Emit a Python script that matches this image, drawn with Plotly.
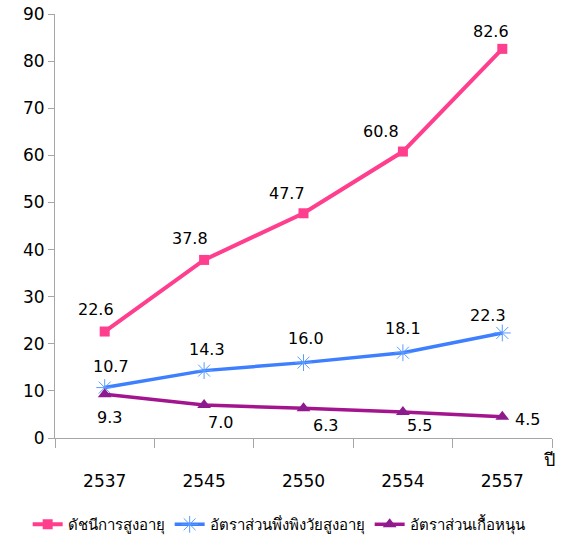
import plotly.graph_objects as go

years = ["2537", "2545", "2550", "2554", "2557"]
elderly_index = [22.6, 37.8, 47.7, 60.8, 82.6]
old_dependency = [10.7, 14.3, 16.0, 18.1, 22.3]
support_ratio = [9.3, 7.0, 6.3, 5.5, 4.5]
y_ticks = [0, 10, 20, 30, 40, 50, 60, 70, 80, 90]

names = ["ดัชนีการสูงอายุ", "อัตราส่วนพึ่งพิงวัยสูงอายุ", "อัตราส่วนเกื้อหนุน"]

# label offsets in pixels (style only)
pink_off = [(-9, 22), (-14, 21), (-17, 20), (-22, 20), (-11, 17)]
blue_off = [(6, 21), (3, 21), (2, 24), (0, 24), (-14, 17)]
purple_off = [(5, -23), (16, -17), (22, -17), (17, -13), (25, -3)]

FONT = "Tahoma, 'DejaVu Sans', 'Noto Sans', sans-serif"
PINK, BLUE, PURPLE = "#FF3E8E", "#3D7FFF", "#A3158F"

fig = go.Figure()
fig.add_trace(go.Scatter(
    x=years, y=elderly_index, name=names[0], mode="lines+markers",
    line=dict(color=PINK, width=4),
    marker=dict(symbol="square", size=10, color=PINK),
))
fig.add_trace(go.Scatter(
    x=years, y=old_dependency, name=names[1], mode="lines+markers",
    line=dict(color=BLUE, width=3.5),
    marker=dict(symbol="asterisk-open", size=14, color="#5A9BFF", line=dict(width=1, color="#5A9BFF")),
))
fig.add_trace(go.Scatter(
    x=years, y=support_ratio, name=names[2], mode="lines+markers",
    line=dict(color=PURPLE, width=3.5),
    marker=dict(symbol="triangle-up", size=12, color="#8E1B8E"),
))

annotations = []
for vals, offs in ((elderly_index, pink_off), (old_dependency, blue_off), (support_ratio, purple_off)):
    for i, (v, (dx, dy)) in enumerate(zip(vals, offs)):
        annotations.append(dict(x=i, y=v, xref="x", yref="y", text=f"{v:.1f}", showarrow=False,
                                xshift=dx, yshift=dy, font=dict(size=16, color="black", family=FONT)))
annotations.append(dict(text="ปี", xref="paper", yref="paper", x=0.995, y=-0.021,
                        xanchor="center", yanchor="top", showarrow=False, font=dict(size=18)))

fig.update_layout(
    width=563, height=552,
    margin=dict(l=55, r=11, t=14, b=109),
    paper_bgcolor="white", plot_bgcolor="white",
    font=dict(family=FONT, size=16, color="black"),
    showlegend=True,
    legend=dict(orientation="h", x=-0.055, xanchor="left", y=-0.243, yanchor="bottom",
                font=dict(size=15), itemwidth=30, tracegroupgap=0),
    xaxis=dict(
        type="category", range=[-0.5, 4.5], showline=True, linecolor="#A6A6A6", linewidth=1,
        ticks="outside", tickson="boundaries", ticklen=9, tickcolor="#A6A6A6",
        showgrid=False, zeroline=False, ticklabelstandoff=28, automargin=False,
        tickfont=dict(size=17),
    ),
    yaxis=dict(
        range=[0, 90], tickvals=y_ticks, showline=True, linecolor="#A6A6A6", linewidth=1,
        ticks="outside", ticklen=6, tickcolor="#A6A6A6", showgrid=False, zeroline=False,
        automargin=False, tickfont=dict(size=17), ticklabeloverflow="allow",
    ),
    annotations=annotations,
)

fig.write_html("out.html", config={"displayModeBar": False},
               post_script="document.body.style.margin='0';document.body.style.overflow='hidden';")
